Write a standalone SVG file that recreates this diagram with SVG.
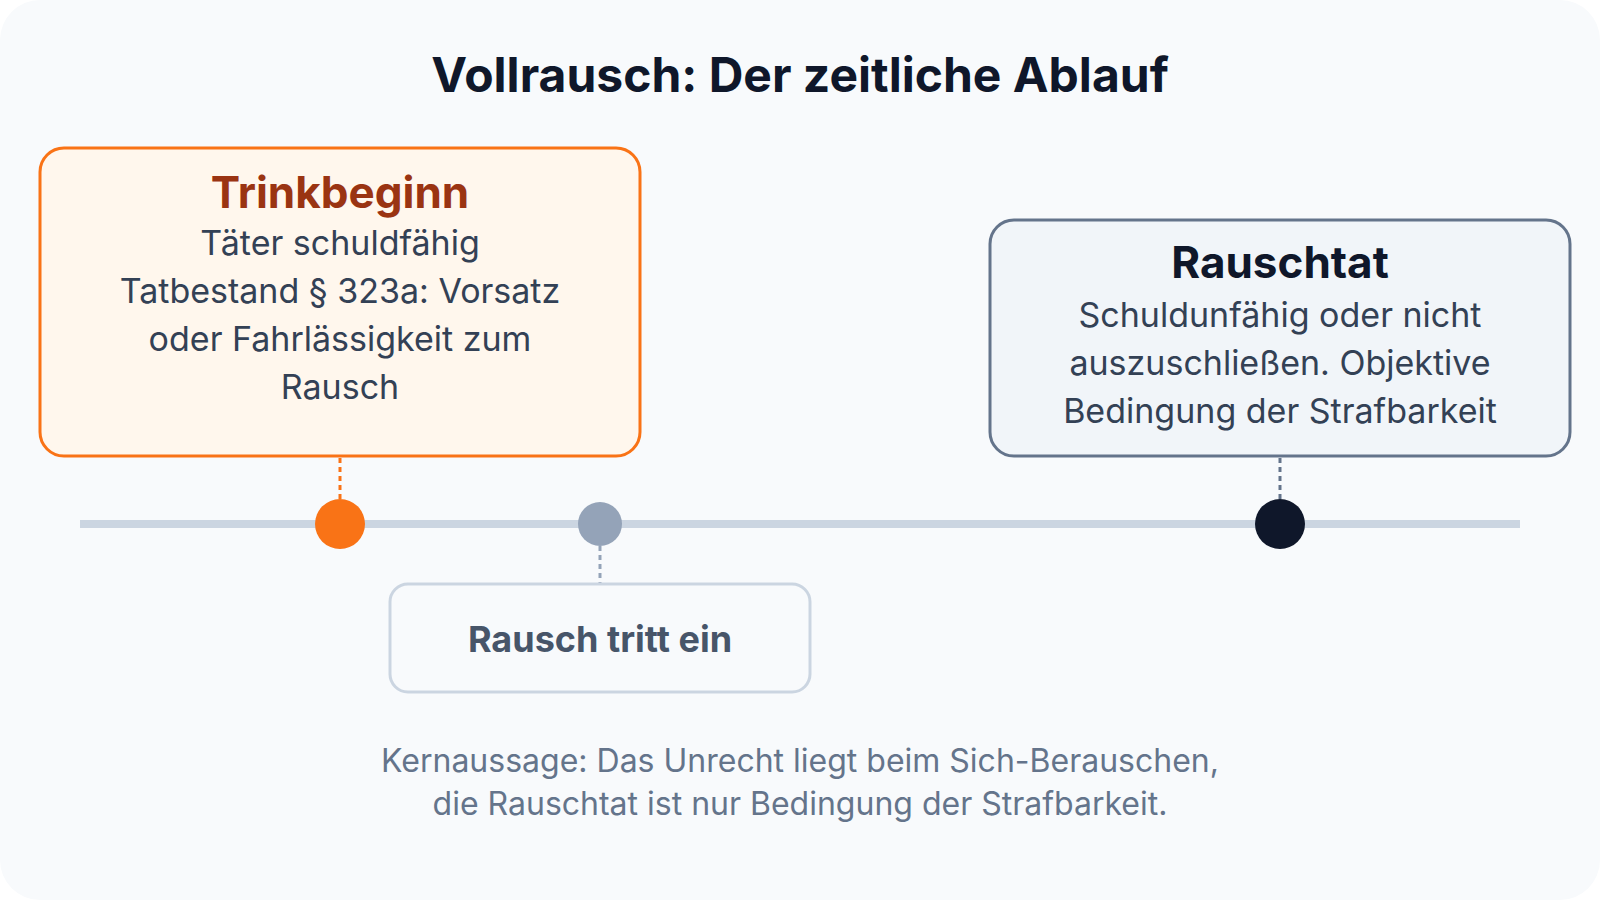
<svg xmlns="http://www.w3.org/2000/svg" width="1600" height="900" viewBox="0 0 1600 900">
  <style>
    text { font-family: Inter, "Noto Sans", "Liberation Sans", sans-serif; text-anchor: middle; }
    .title { font-size: 48px; font-weight: 700; fill: #0f172a; }
    .head { font-size: 44px; font-weight: 700; }
    .body { font-size: 34px; fill: #334155; }
    .foot { font-size: 32px; fill: #64748b; }
    .conn { stroke-width: 3; stroke-dasharray: 5 4; fill: none; }
  </style>
  <rect x="0" y="0" width="1600" height="900" fill="#ffffff"/>
  <rect x="0" y="0" width="1600" height="900" rx="40" fill="#f8fafc"/>
  <text class="title" x="800" y="92">Vollrausch: Der zeitliche Ablauf</text>

  <g id="timeline">
    <line x1="80" y1="524" x2="1520" y2="524" stroke="#cbd5e1" stroke-width="8"/>
  </g>

  <g id="connectors">
    <line class="conn" x1="340" y1="458" x2="340" y2="500" stroke="#f97316"/>
    <line class="conn" x1="600" y1="546" x2="600" y2="583" stroke="#94a3b8"/>
    <line class="conn" x1="1280" y1="458" x2="1280" y2="500" stroke="#64748b"/>
  </g>

  <g id="trinkbeginn">
    <rect x="40" y="148" width="600" height="308" rx="24" fill="#fff7ed" stroke="#f97316" stroke-width="3"/>
    <text class="head" x="340" y="208" fill="#9a3412">Trinkbeginn</text>
    <text class="body" x="340" y="255">Täter schuldfähig</text>
    <text class="body" x="340" y="303">Tatbestand § 323a: Vorsatz</text>
    <text class="body" x="340" y="351">oder Fahrlässigkeit zum</text>
    <text class="body" x="340" y="399">Rausch</text>
    <circle cx="340" cy="524" r="25" fill="#f97316"/>
  </g>

  <g id="rausch-tritt-ein">
    <circle cx="600" cy="524" r="22" fill="#94a3b8"/>
    <rect x="390" y="584" width="420" height="108" rx="18" fill="#f8fafc" stroke="#cbd5e1" stroke-width="3"/>
    <text x="600" y="652" font-size="36" font-weight="700" fill="#475569">Rausch tritt ein</text>
  </g>

  <g id="rauschtat">
    <rect x="990" y="220" width="580" height="236" rx="24" fill="#f1f5f9" stroke="#64748b" stroke-width="3"/>
    <text class="head" x="1280" y="278" fill="#0f172a">Rauschtat</text>
    <text class="body" x="1280" y="327">Schuldunfähig oder nicht</text>
    <text class="body" x="1280" y="375">auszuschließen. Objektive</text>
    <text class="body" x="1280" y="423">Bedingung der Strafbarkeit</text>
    <circle cx="1280" cy="524" r="25" fill="#0f172a"/>
  </g>

  <g id="footer">
    <text class="foot" x="800" y="772">Kernaussage: Das Unrecht liegt beim Sich-Berauschen,</text>
    <text class="foot" x="800" y="815">die Rauschtat ist nur Bedingung der Strafbarkeit.</text>
  </g>
</svg>
